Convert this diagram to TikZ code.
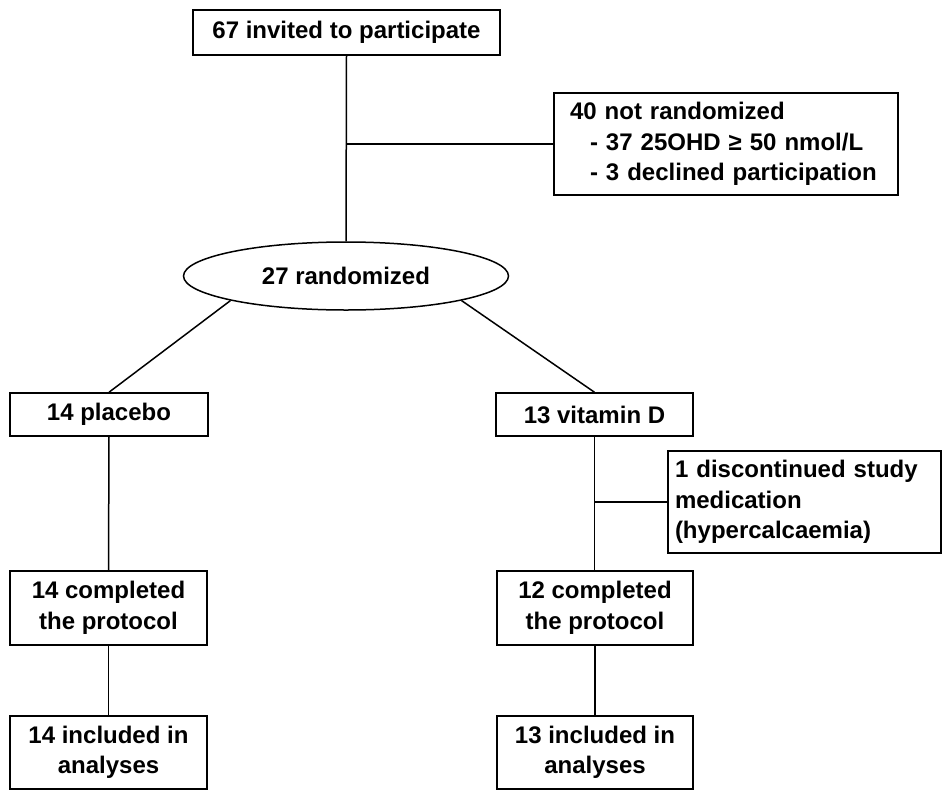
\documentclass[tikz,border=0pt]{standalone}
\usepackage{fontspec}
\setmainfont{Liberation Sans}
\usetikzlibrary{shapes.geometric}
\begin{document}
\begin{tikzpicture}[x=1pt,y=-1pt,
  every node/.style={font=\fontsize{24}{30.5}\selectfont\bfseries, inner sep=0pt},
  box/.style={draw, line width=1.5pt, rectangle, align=center},
  lbox/.style={draw, line width=1.5pt, rectangle, align=left, text width=#1},
  conn/.style={line width=1.5pt}]
\useasboundingbox (0,0) rectangle (943,793);
\node[box, minimum width=307pt, minimum height=45pt] (inv) at (346.5,32.5) {67 invited to participate};
\node[lbox=312pt, minimum height=102pt, inner xsep=16pt] (notr) at (726,144) {40 not randomized\\\hspace*{20pt}- 37 25OHD ≥ 50 nmol/L\\\hspace*{20pt}- 3 declined participation};
\node[draw, line width=1.5pt, ellipse, minimum width=325pt, minimum height=68pt] (rand) at (346,276) {27 randomized};
\node[box, minimum width=198pt, minimum height=43pt] (plac) at (109,414.5) {14 placebo};
\node[box, minimum width=197pt, minimum height=43pt] (vitd) at (594.5,414.5) {13 vitamin D};
\node[lbox=259pt, minimum height=102pt, inner xsep=7pt] (disc) at (804.5,502) {1 discontinued study\\medication\\(hypercalcaemia)};
\node[box, minimum width=197pt, minimum height=74pt] (comp1) at (108.5,608) {14 completed\\the protocol};
\node[box, minimum width=196pt, minimum height=74pt] (comp2) at (595,608) {12 completed\\the protocol};
\node[box, minimum width=197pt, minimum height=73pt] (incl1) at (108.5,752.5) {14 included in\\analyses};
\node[box, minimum width=196pt, minimum height=73pt] (incl2) at (595,752.5) {13 included in\\analyses};
\draw[conn] (inv.south) -- (rand.north);
\coordinate (j1) at (inv.south |- notr.west);
\draw[conn] (j1) -- (notr.west);
\draw[conn] (rand.192) -- (plac.north);
\draw[conn] (rand.348) -- (vitd.north);
\draw[conn] (plac.south) -- (comp1.north);
\draw[conn] (comp1.south) -- (incl1.north);
\draw[conn] (vitd.south) -- (vitd.south |- comp2.north);
\coordinate (j2) at (vitd.south |- disc.west);
\draw[conn] (j2) -- (disc.west);
\draw[conn] (comp2.south) -- (incl2.north);
\end{tikzpicture}
\end{document}
